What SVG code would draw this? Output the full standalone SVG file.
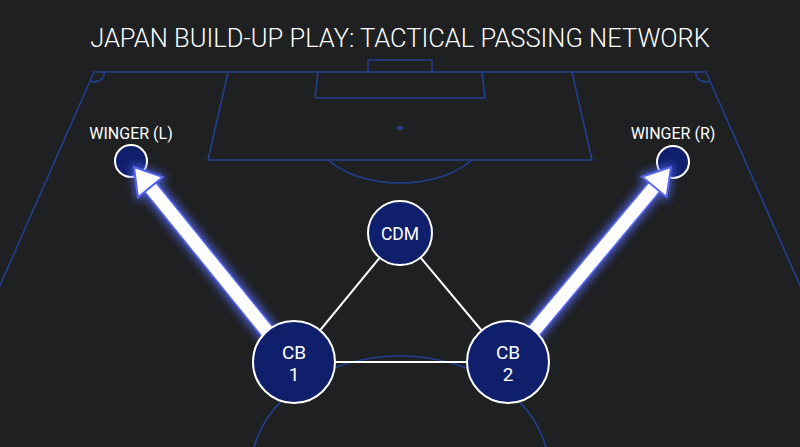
<svg xmlns="http://www.w3.org/2000/svg" width="800" height="447" viewBox="0 0 800 447">
<defs>
<style>
.pitch{fill:none;stroke:#22408f;stroke-width:1.6}
.link{stroke:#ffffff;stroke-width:2;fill:none}
.node{fill:#0f1f6c;stroke:#ffffff;stroke-width:2}
.lbl{font-family:Roboto,"Liberation Sans",sans-serif;fill:#ffffff;text-anchor:middle}
.glow{stroke:#5a6cff;stroke-width:21;fill:none}
.shaft-b{stroke:#5566ee;stroke-width:16;fill:none}
.shaft{stroke:#ffffff;stroke-width:13;fill:none}
.head{fill:#ffffff;stroke:#5566ee;stroke-width:2;stroke-linejoin:miter}
.headglow{fill:#5a6cff;stroke:#5a6cff;stroke-width:5}
</style>
<filter id="blur" x="-50%" y="-50%" width="200%" height="200%">
<feGaussianBlur stdDeviation="4"/>
</filter>
</defs>
<rect width="800" height="447" fill="#1e2022"/>
<g id="pitch">
<path class="pitch" d="M-2,290 L94,72 L706,72 L802,290"/>
<path class="pitch" d="M208,160 L228,72 M572,72 L592,160 L208,160"/>
<path class="pitch" d="M315,98 L318,72 M482,72 L485,98 L315,98"/>
<path class="pitch" d="M368,72 L368,60 L432,60 L432,72"/>
<ellipse cx="400" cy="128" rx="3" ry="2" fill="#2c3f9a"/>
<path class="pitch" d="M328,160 A88.5 55 0 0 0 472,160"/>
<path class="pitch" d="M104,72 A10 8 0 0 1 90,81"/>
<path class="pitch" d="M696,72 A10 8 0 0 0 710,81"/>
<ellipse class="pitch" cx="400" cy="470" rx="149" ry="114"/>
</g>
<text class="lbl" x="400" y="47" font-size="25.5" font-weight="300">JAPAN BUILD-UP PLAY: TACTICAL PASSING NETWORK</text>
<g id="connectors">
<line class="link" x1="400" y1="233" x2="294" y2="362"/>
<line class="link" x1="400" y1="233" x2="508" y2="362"/>
<line class="link" x1="294" y1="362" x2="508" y2="362"/>
</g>
<g id="winger-l">
<circle class="node" cx="131" cy="161" r="16"/>
<text class="lbl" x="131" y="139" font-size="16">WINGER (L)</text>
</g>
<g id="winger-r">
<circle class="node" cx="673" cy="162" r="16"/>
<text class="lbl" x="673" y="139" font-size="16">WINGER (R)</text>
</g>
<g id="passes">
<g transform="translate(134,167) rotate(-129)">
<g filter="url(#blur)" opacity="0.75">
<line class="glow" x1="-252" y1="0" x2="-20" y2="0"/>
<polygon class="headglow" points="0,0 -26,-16 -26,16"/>
</g>
<line class="shaft-b" x1="-252" y1="0" x2="-24" y2="0"/>
<line class="shaft" x1="-252" y1="0" x2="-22" y2="0"/>
<polygon class="head" points="0,0 -26,-16 -26,16"/>
</g>
<g transform="translate(671,167) rotate(-50.1)">
<g filter="url(#blur)" opacity="0.75">
<line class="glow" x1="-254" y1="0" x2="-20" y2="0"/>
<polygon class="headglow" points="0,0 -26,-16 -26,16"/>
</g>
<line class="shaft-b" x1="-254" y1="0" x2="-24" y2="0"/>
<line class="shaft" x1="-254" y1="0" x2="-22" y2="0"/>
<polygon class="head" points="0,0 -26,-16 -26,16"/>
</g>
</g>
<g id="cdm">
<circle class="node" cx="400" cy="233" r="32"/>
<text class="lbl" x="400" y="239.5" font-size="17.5">CDM</text>
</g>
<g id="cb1">
<circle class="node" cx="294" cy="362" r="41"/>
<text class="lbl" x="294" y="359" font-size="19">CB</text>
<text class="lbl" x="294" y="380.5" font-size="19">1</text>
</g>
<g id="cb2">
<circle class="node" cx="508" cy="362" r="41"/>
<text class="lbl" x="508" y="359" font-size="19">CB</text>
<text class="lbl" x="508" y="380.5" font-size="19">2</text>
</g>
</svg>
